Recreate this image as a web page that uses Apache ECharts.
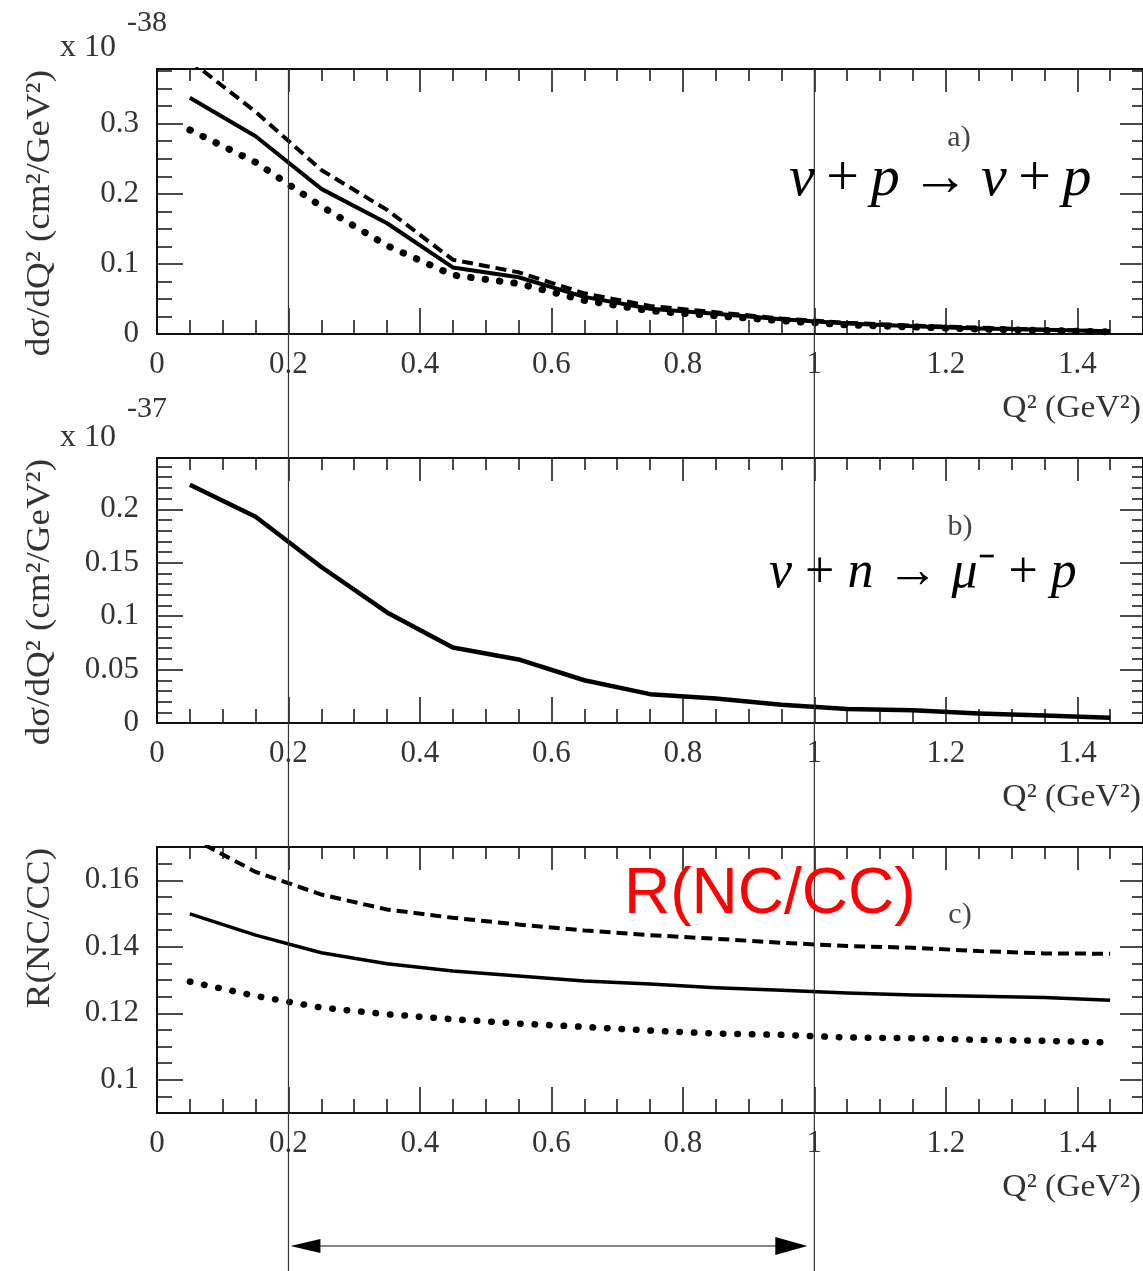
<!DOCTYPE html>
<html>
<head>
<meta charset="utf-8">
<script src="https://cdn.jsdelivr.net/npm/echarts@6/dist/echarts.min.js"></script>
<style>
  html, body { margin: 0; padding: 0; background: #fff; }
  #chart { width: 1143px; height: 1271px; }
</style>
</head>
<body>
<div id="chart"></div>
<script>
// Q^2 bin centres (GeV^2)
const q2 = [0.05, 0.15, 0.25, 0.35, 0.45, 0.55, 0.65, 0.75, 0.85, 0.95, 1.05, 1.15, 1.25, 1.35, 1.45];

// a) nu + p -> nu + p, x 1e-38 cm^2/GeV^2
const ncSolid  = [0.337, 0.282, 0.207, 0.158, 0.095, 0.081, 0.053, 0.036, 0.029, 0.021, 0.015, 0.011, 0.008, 0.006, 0.004];
const ncDashed = [0.390, 0.317, 0.234, 0.177, 0.106, 0.088, 0.058, 0.040, 0.031, 0.022, 0.016, 0.012, 0.009, 0.006, 0.004];
const ncDotted = [0.291, 0.245, 0.182, 0.126, 0.084, 0.072, 0.048, 0.033, 0.026, 0.019, 0.013, 0.010, 0.007, 0.005, 0.003];

// b) nu + n -> mu- + p, x 1e-37 cm^2/GeV^2
const ccSolid = [0.223, 0.193, 0.146, 0.1035, 0.0707, 0.0595, 0.040, 0.027, 0.023, 0.017, 0.013, 0.012, 0.009, 0.007, 0.005];

// c) R(NC/CC)
const ratioSolid  = [0.1499, 0.1435, 0.1382, 0.1349, 0.1327, 0.1312, 0.1297, 0.1288, 0.1277, 0.1269, 0.1261, 0.1255, 0.1251, 0.1247, 0.1239];
const ratioDashed = [0.173, 0.1625, 0.1557, 0.1512, 0.1487, 0.1467, 0.1449, 0.1435, 0.1424, 0.1412, 0.1402, 0.1397, 0.1387, 0.1380, 0.1379];
const ratioDotted = [0.1295, 0.1252, 0.1217, 0.1197, 0.1182, 0.1169, 0.1159, 0.1148, 0.1139, 0.1135, 0.1127, 0.1125, 0.1120, 0.1117, 0.1112];

// tick labels
const xTicks = [0, 0.2, 0.4, 0.6, 0.8, 1, 1.2, 1.4];
const yTicksA = [0, 0.1, 0.2, 0.3];
const yTicksB = [0, 0.05, 0.1, 0.15, 0.2];
const yTicksC = [0.1, 0.12, 0.14, 0.16];

// Q^2 range marked by the vertical guides and arrow
const markedRange = [0.2, 1.0];

const serif = 'Liberation Serif';
const textColor = '#333';
const tickStyle = { color: '#111', width: 1.5 };

const panels = [
  { top: 69,  height: 265, yMin: 0,    yMax: 0.378, yTicks: yTicksA, yStep: 0.025 },
  { top: 458, height: 265, yMin: 0,    yMax: 0.248, yTicks: yTicksB, yStep: 0.01 },
  { top: 847, height: 266, yMin: 0.09, yMax: 0.17,  yTicks: yTicksC, yStep: 0.005 },
];

const grids = [], xAxes = [], yAxes = [];
const noLine = { show: false, onZero: false };

function xPair(gi, pos, majorLen, minorLen, labels) {
  return [
    {
      gridIndex: gi, type: 'value', position: pos, min: 0, max: 1.5,
      axisLine: noLine, splitLine: { show: false },
      axisTick: { show: true, inside: true, length: majorLen, customValues: xTicks, lineStyle: tickStyle },
      axisLabel: { show: labels, customValues: xTicks, margin: 15, fontFamily: serif, fontSize: 31, color: textColor },
    },
    {
      gridIndex: gi, type: 'value', position: pos, min: 0, max: 1.5, interval: 0.05,
      axisLine: noLine, splitLine: { show: false },
      axisTick: { show: true, inside: true, length: minorLen, lineStyle: tickStyle },
      axisLabel: { show: false },
    },
  ];
}

function yPair(gi, p, pos, majorLen, minorLen, labels) {
  return [
    {
      gridIndex: gi, type: 'value', position: pos, min: p.yMin, max: p.yMax,
      axisLine: noLine, splitLine: { show: false },
      axisTick: { show: true, inside: true, length: majorLen, customValues: p.yTicks, lineStyle: tickStyle },
      axisLabel: { show: labels, customValues: p.yTicks, margin: 18, fontFamily: serif, fontSize: 31, color: textColor },
    },
    {
      gridIndex: gi, type: 'value', position: pos, min: p.yMin, max: p.yMax, interval: p.yStep,
      axisLine: noLine, splitLine: { show: false },
      axisTick: { show: true, inside: true, length: minorLen, lineStyle: tickStyle },
      axisLabel: { show: false },
    },
  ];
}

panels.forEach((p, gi) => {
  grids.push({ left: 157, width: 986, top: p.top, height: p.height, show: true, borderColor: '#111', borderWidth: 2 });
  xAxes.push(...xPair(gi, 'bottom', 26, 14, true), ...xPair(gi, 'top', 23, 12, false));
  yAxes.push(...yPair(gi, p, 'left', 26, 15, true), ...yPair(gi, p, 'right', 23, 11, false));
});

const styles = {
  solid:  { color: '#000', width: 4, type: 'solid', join: 'round' },
  dashed: { color: '#000', width: 4, type: [11, 6] },
  dotted: { color: '#000', width: 7, type: [0.5, 14], cap: 'round' },
};

function curve(gi, values, kind, width) {
  const ls = Object.assign({}, styles[kind]);
  if (width) ls.width = width;
  return {
    type: 'line', xAxisIndex: gi * 4, yAxisIndex: gi * 4,
    data: q2.map((x, i) => [x, values[i]]),
    showSymbol: false, symbol: 'none', silent: true, clip: true,
    lineStyle: ls,
  };
}

const series = [
  curve(0, ncDotted, 'dotted'),
  curve(0, ncDashed, 'dashed'),
  curve(0, ncSolid, 'solid'),
  curve(1, ccSolid, 'solid', 4.5),
  curve(2, ratioDotted, 'dotted', 6.5),
  curve(2, ratioDashed, 'dashed'),
  curve(2, ratioSolid, 'solid', 3.5),
];

const chart = echarts.init(document.getElementById('chart'), null, { renderer: 'canvas' });
chart.setOption({
  animation: false,
  backgroundColor: '#fff',
  grid: grids,
  xAxis: xAxes,
  yAxis: yAxes,
  series: series,
});

// annotations
function txt(x, y, text, size, extra) {
  extra = extra || {};
  const el = {
    type: 'text', x: x, y: y, z: 50,
    style: Object.assign({
      text: text, fontFamily: serif, fontSize: size, fill: textColor,
      align: 'left', verticalAlign: 'middle',
    }, extra.style || {}),
  };
  if (extra.rotation !== undefined) el.rotation = extra.rotation;
  if (extra.scaleX !== undefined) el.scaleX = extra.scaleX;
  return el;
}

const mathRich = (size) => ({
  i: { fontFamily: serif, fontStyle: 'italic', fontSize: size, fill: '#000' },
  r: { fontFamily: serif, fontSize: size, fill: '#000' },
});

const graphics = [];
const xa = chart.convertToPixel({ xAxisIndex: 0 }, markedRange[0]);
const xb = chart.convertToPixel({ xAxisIndex: 0 }, markedRange[1]);
[xa, xb].forEach((x) => {
  graphics.push({ type: 'line', z: 40, shape: { x1: x, y1: 69, x2: x, y2: 1271 }, style: { stroke: '#333', lineWidth: 1.2 } });
});
const ay = 1246;
graphics.push(
  { type: 'line', z: 40, shape: { x1: xa + 30, y1: ay, x2: xb - 36, y2: ay }, style: { stroke: '#111', lineWidth: 1.2 } },
  { type: 'polygon', z: 40, shape: { points: [[xa + 2, ay], [xa + 32, ay - 7], [xa + 32, ay + 7]] }, style: { fill: '#000' } },
  { type: 'polygon', z: 40, shape: { points: [[xb - 7, ay], [xb - 39, ay - 9], [xb - 39, ay + 9]] }, style: { fill: '#000' } }
);

// exponent labels
graphics.push(
  txt(60, 48, 'x 10', 32), txt(127, 23, '-38', 30),
  txt(60, 438, 'x 10', 32), txt(127, 409, '-37', 30)
);

// y axis titles (end aligned with plot top)
const yTitles = ['dσ/dQ² (cm²/GeV²)', 'dσ/dQ² (cm²/GeV²)', 'R(NC/CC)'];
panels.forEach((p, gi) => {
  graphics.push(txt(40, p.top + 1, yTitles[gi], 33, { rotation: Math.PI / 2, scaleX: 1.12, style: { align: 'right' } }));
  graphics.push(txt(1141, p.top + p.height + 75, 'Q² (GeV²)', 32, { scaleX: 1.05, style: { align: 'right' } }));
});

// panel letters
graphics.push(
  txt(959, 138, 'a)', 30, { style: { align: 'center', fill: '#444' } }),
  txt(960, 527, 'b)', 30, { style: { align: 'center', fill: '#444' } }),
  txt(960, 915, 'c)', 30, { style: { align: 'center', fill: '#444' } })
);

// reactions
graphics.push({
  type: 'text', x: 789, y: 180, z: 50,
  style: {
    text: '{i|ν}{r|\u2009+\u2009}{i|p}{r|\u2009→\u2009}{i|ν}{r|\u2009+\u2009}{i|p}',
    rich: mathRich(58), align: 'left', verticalAlign: 'middle',
  },
});
graphics.push({
  type: 'text', x: 769, y: 573, z: 50,
  style: {
    text: '{i|ν}{r| + }{i|n}{r| → }{i|μ}{r|⁻ + }{i|p}',
    rich: mathRich(52), align: 'left', verticalAlign: 'middle',
  },
});
graphics.push({
  type: 'text', x: 624, y: 895, z: 50,
  style: { text: 'R(NC/CC)', fontFamily: 'Liberation Sans', fontSize: 64, fill: '#ff0000', align: 'left', verticalAlign: 'middle' },
});

chart.setOption({ graphic: graphics });
</script>
</body>
</html>
